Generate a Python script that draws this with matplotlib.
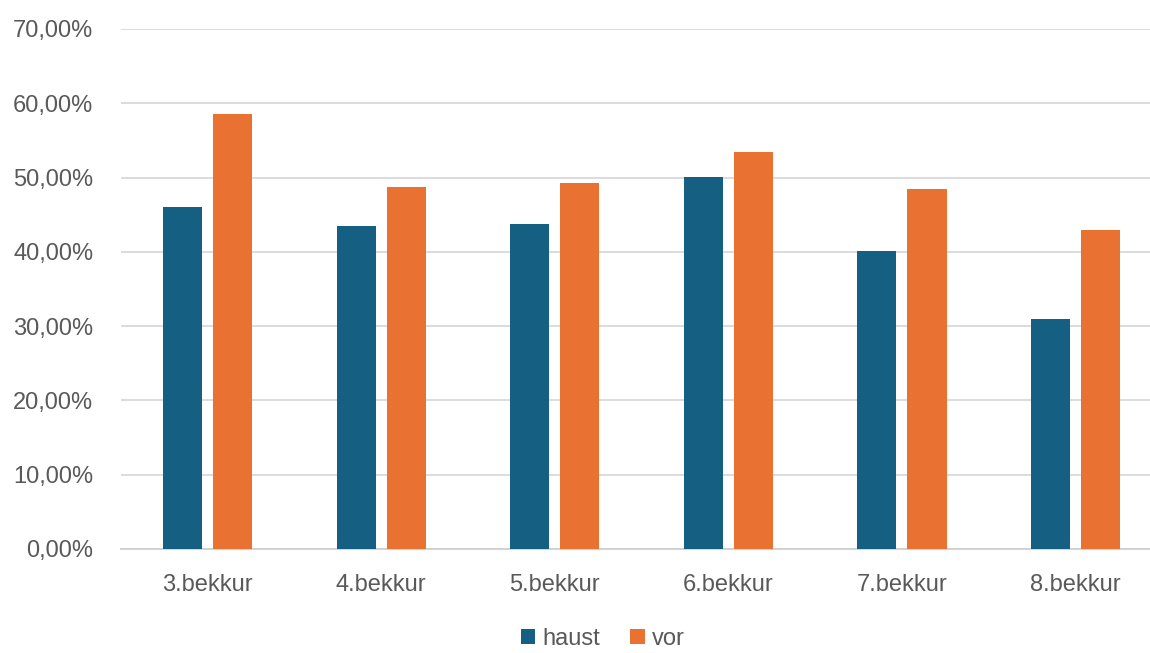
import numpy as np
import matplotlib.pyplot as plt
from matplotlib.ticker import FuncFormatter

# ---------------- DATI ----------------
categorie = ["3.bekkur", "4.bekkur", "5.bekkur", "6.bekkur", "7.bekkur", "8.bekkur"]
haust = [0.460, 0.435, 0.438, 0.501, 0.401, 0.310]
vor = [0.586, 0.487, 0.493, 0.535, 0.485, 0.429]

col_haust = "#156082"
col_vor = "#E97132"
grigio = "#595959"

plt.rcParams["font.family"] = ["Liberation Sans", "DejaVu Sans"]

# ---------------- FIGURA ----------------
fig = plt.figure(figsize=(11.5, 6.53), dpi=100)
ax = fig.add_axes([121 / 1150, (653 - 549) / 653, 1 - 121 / 1150, 520 / 653])

x = np.arange(len(categorie))
w = 0.225
off = 0.145

ax.bar(x - off, haust, w, color=col_haust, label="haust", zorder=3)
ax.bar(x + off, vor, w, color=col_vor, label="vor", zorder=3)

ax.set_ylim(0, 0.70)
ax.set_xlim(-0.5, 5.43)
ax.set_yticks(np.arange(0, 0.71, 0.10))
ax.yaxis.set_major_formatter(FuncFormatter(lambda v, p: f"{v * 100:.2f}%".replace(".", ",")))
ax.set_xticks(x)
ax.set_xticklabels(categorie)

ax.grid(axis="y", color="#d9d9d9", linewidth=1.3, zorder=0)
for s in ["top", "right", "left"]:
    ax.spines[s].set_visible(False)
ax.spines["bottom"].set_color("#d0d0d0")
ax.spines["bottom"].set_linewidth(1.3)

ax.tick_params(axis="both", length=0, labelsize=17, labelcolor=grigio)
ax.tick_params(axis="y", pad=20)
ax.tick_params(axis="x", pad=18)

# ---------------- LEGENDA ----------------
fig.legend(
    loc="lower center",
    bbox_to_anchor=(0.524, -0.028),
    ncol=2,
    frameon=False,
    fontsize=17,
    labelcolor=grigio,
    handlelength=0.6,
    handleheight=0.6,
    handletextpad=0.3,
    columnspacing=1.3,
)

fig.savefig("out.png", dpi=100)
